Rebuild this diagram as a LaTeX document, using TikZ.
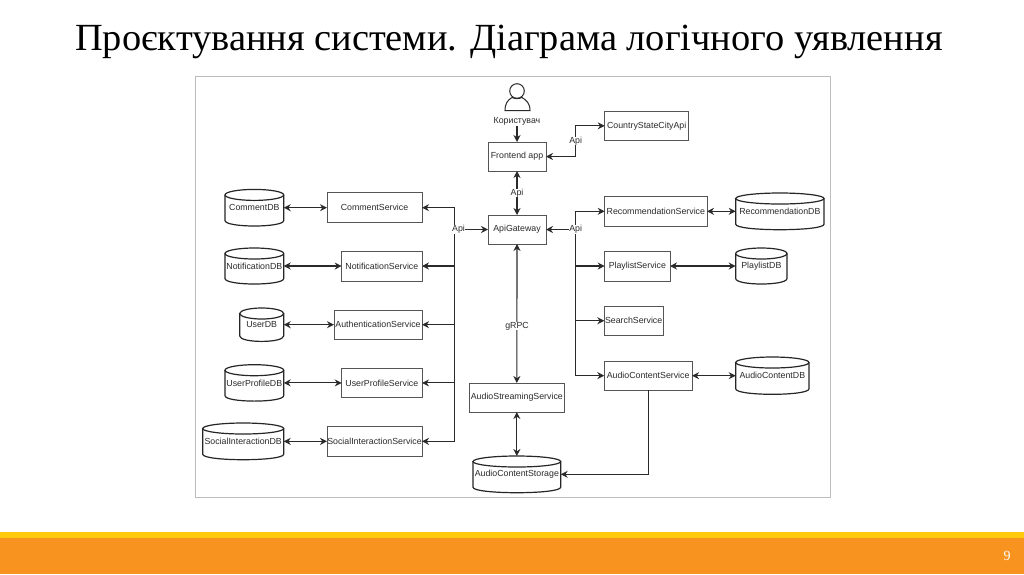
\documentclass[tikz,border=0pt]{standalone}
\usepackage{fontspec}
\setmainfont{Liberation Sans}
\newfontfamily\titlefont{Liberation Serif}
\usetikzlibrary{arrows.meta}
\definecolor{bandyellow}{HTML}{FFC90E}
\definecolor{bandorange}{HTML}{F7931E}
\definecolor{inkgray}{HTML}{2A2A2A}
\definecolor{boxgray}{HTML}{555555}
\definecolor{framegray}{HTML}{BDBDBD}
\tikzset{
  svcbox/.style={draw=boxgray,line width=1pt,fill=white,inner sep=0pt,outer sep=0pt,font=\fontsize{8.8}{10}\selectfont,text=inkgray},
  dbbox/.style={inner sep=0pt,outer sep=0pt,font=\fontsize{8.8}{10}\selectfont,text=inkgray},
  dbline/.style={draw=black!85,line width=1.2pt,fill=white},
  conn/.style={draw=inkgray,line width=1.1pt,-{Stealth[length=7pt,width=7pt]}},
  both/.style={draw=inkgray,line width=1.1pt,{Stealth[length=7pt,width=7pt]}-{Stealth[length=7pt,width=7pt]}},
  lbl/.style={fill=white,inner sep=0.3pt,font=\fontsize{8.8}{10}\selectfont,text=inkgray},
}
% box: name, x1, y1, x2, y2, text
\newcommand{\svc}[6]{%
  \pgfmathsetmacro{\bw}{#4-#2}\pgfmathsetmacro{\bh}{#5-#3}%
  \pgfmathsetmacro{\bx}{(#2+#4)/2}\pgfmathsetmacro{\by}{(#3+#5)/2}%
  \node[svcbox,minimum width=\bw pt,minimum height=\bh pt] (#1) at (\bx,\by) {#6};%
}
% cylinder: name, x1, y1, x2, y2, text
\newcommand{\dbcyl}[6]{%
  \pgfmathsetmacro{\bw}{#4-#2}\pgfmathsetmacro{\bh}{#5-#3}%
  \pgfmathsetmacro{\bx}{(#2+#4)/2}\pgfmathsetmacro{\by}{(#3+#5)/2}%
  \pgfmathsetmacro{\rw}{(#4-#2)/2}%
  \pgfmathsetmacro{\ytop}{#3+5.5}\pgfmathsetmacro{\ylow}{#5-5.5}\pgfmathsetmacro{\yctl}{#5+5.5/3}%
  \draw[dbline] (#2,\ytop) -- (#2,\ylow) .. controls (#2,\yctl) and (#4,\yctl) .. (#4,\ylow) -- (#4,\ytop);%
  \draw[dbline] (\bx,\ytop) ellipse [x radius=\rw pt,y radius=5.5pt];%
  \node[dbbox,minimum width=\bw pt,minimum height=\bh pt] (#1) at (\bx,\by) {#6};%
}
\begin{document}
\begin{tikzpicture}[x=1pt,y=-1pt]
\useasboundingbox (0,0) rectangle (1024,574);
\fill[white] (0,0) rectangle (1024,574);
\fill[bandyellow] (0,532) rectangle (1024,538);
\fill[bandorange] (0,537.5) rectangle (1024,574);
\node[font=\titlefont\fontsize{38.4}{44}\selectfont,text=black,inner sep=0pt,anchor=base] (title) at (509,50) {Проєктування системи. Діаграма логічного уявлення};
\node[font=\titlefont\fontsize{14}{16}\selectfont,text=white,inner sep=0pt] (pageno) at (1007,556) {9};
\draw[draw=framegray,line width=1pt,fill=white] (195,76) rectangle (830,497);

% person
\draw[draw=inkgray,line width=1pt] (517,91) circle [radius=7.3pt];
\draw[draw=inkgray,line width=1pt] (505,110.5) .. controls (505,103) and (508,100) .. (512,97.5) .. controls (515,99) and (519,99) .. (522,97.5) .. controls (526,100) and (530,103) .. (530,110.5) -- cycle;
\node[dbbox] (user) at (517,121) {Користувач};

% services
\svc{front}{488}{142}{546}{171}{Frontend app}
\svc{gate}{488}{215}{546}{244}{ApiGateway}
\svc{country}{604.7}{111}{688.7}{140.7}{CountryStateCityApi}
\svc{comment}{327}{192.7}{422}{222.7}{CommentService}
\svc{notif}{341.7}{251}{422}{281}{NotificationService}
\svc{auth}{334}{310}{422}{339.4}{AuthenticationService}
\svc{profile}{341.7}{368.4}{422}{397.4}{UserProfileService}
\svc{social}{327}{426.7}{422}{456}{SocialInteractionService}
\svc{recom}{604.7}{196.7}{707}{226}{RecommendationService}
\svc{playlist}{604.7}{251}{670}{281}{PlaylistService}
\svc{search}{604.3}{306}{663}{335.5}{SearchService}
\svc{audio}{604.3}{361}{692}{390.3}{AudioContentService}
\svc{stream}{469.7}{383}{564}{412}{AudioStreamingService}

% databases
\dbcyl{commentdb}{225}{189.4}{283.7}{226}{CommentDB}
\dbcyl{notifdb}{225}{248}{283.7}{284}{NotificationDB}
\dbcyl{userdb}{239.7}{308}{283.7}{341.4}{UserDB}
\dbcyl{profiledb}{225}{364.7}{283.7}{401.1}{UserProfileDB}
\dbcyl{socialdb}{202.7}{423}{283.7}{459.7}{SocialInteractionDB}
\dbcyl{recomdb}{735.7}{193}{824}{229.7}{RecommendationDB}
\dbcyl{playlistdb}{735.7}{248}{787}{284}{PlaylistDB}
\dbcyl{audiodb}{735.7}{357}{809}{394.3}{AudioContentDB}
\dbcyl{storage}{473}{456}{560.7}{492.7}{AudioContentStorage}

\coordinate (trunkL) at (454.7,229.5);
\coordinate (trunkR) at (575.7,229.5);
\coordinate (bendC) at (575.7,156.5);
\coordinate (bendS) at (648.2,474.3);

% connectors
\draw[conn] (user.south) ++(0,1) -- (front.north);
\draw[both] (front) -- (gate);
\draw[both] (front.east) -- (bendC) |- (country.west);
\draw[both] (gate.south) -- (stream.north);
\draw[both] (stream.south) -- (storage.north);
\draw[conn] (trunkL) -- (gate.west);
\draw[conn] (trunkR) -- (gate.east);
\draw[conn] (trunkL) |- (comment.east);
\draw[conn] (trunkL) |- (notif.east);
\draw[conn] (trunkL) |- (auth.east);
\draw[conn] (trunkL) |- (profile.east);
\draw[conn] (trunkL) |- (social.east);
\draw[conn] (trunkR) |- (recom.west);
\draw[conn] (trunkR) |- (playlist.west);
\draw[conn] (trunkR) |- (search.west);
\draw[conn] (trunkR) |- (audio.west);
\draw[both] (commentdb.east) -- (comment.west);
\draw[both] (notifdb.east) -- (notif.west);
\draw[both] (userdb.east) -- (auth.west);
\draw[both] (profiledb.east) -- (profile.west);
\draw[both] (socialdb.east) -- (social.west);
\draw[both] (recom.east) -- (recomdb.west);
\draw[both] (playlist.east) -- (playlistdb.west);
\draw[both] (audio.east) -- (audiodb.west);
\draw[conn] (audio.south -| bendS) -- (bendS) -- (storage.east |- bendS);

% labels
\node[lbl] (lbl1) at (575.7,141) {Api};
\node[lbl] (lbl2) at (517,193) {Api};
\node[lbl] (lbl3) at (458.5,229.5) {Api};
\node[lbl] (lbl4) at (575.7,229.5) {Api};
\node[lbl] (lbl5) at (517,326) {gRPC};
\end{tikzpicture}
\end{document}
